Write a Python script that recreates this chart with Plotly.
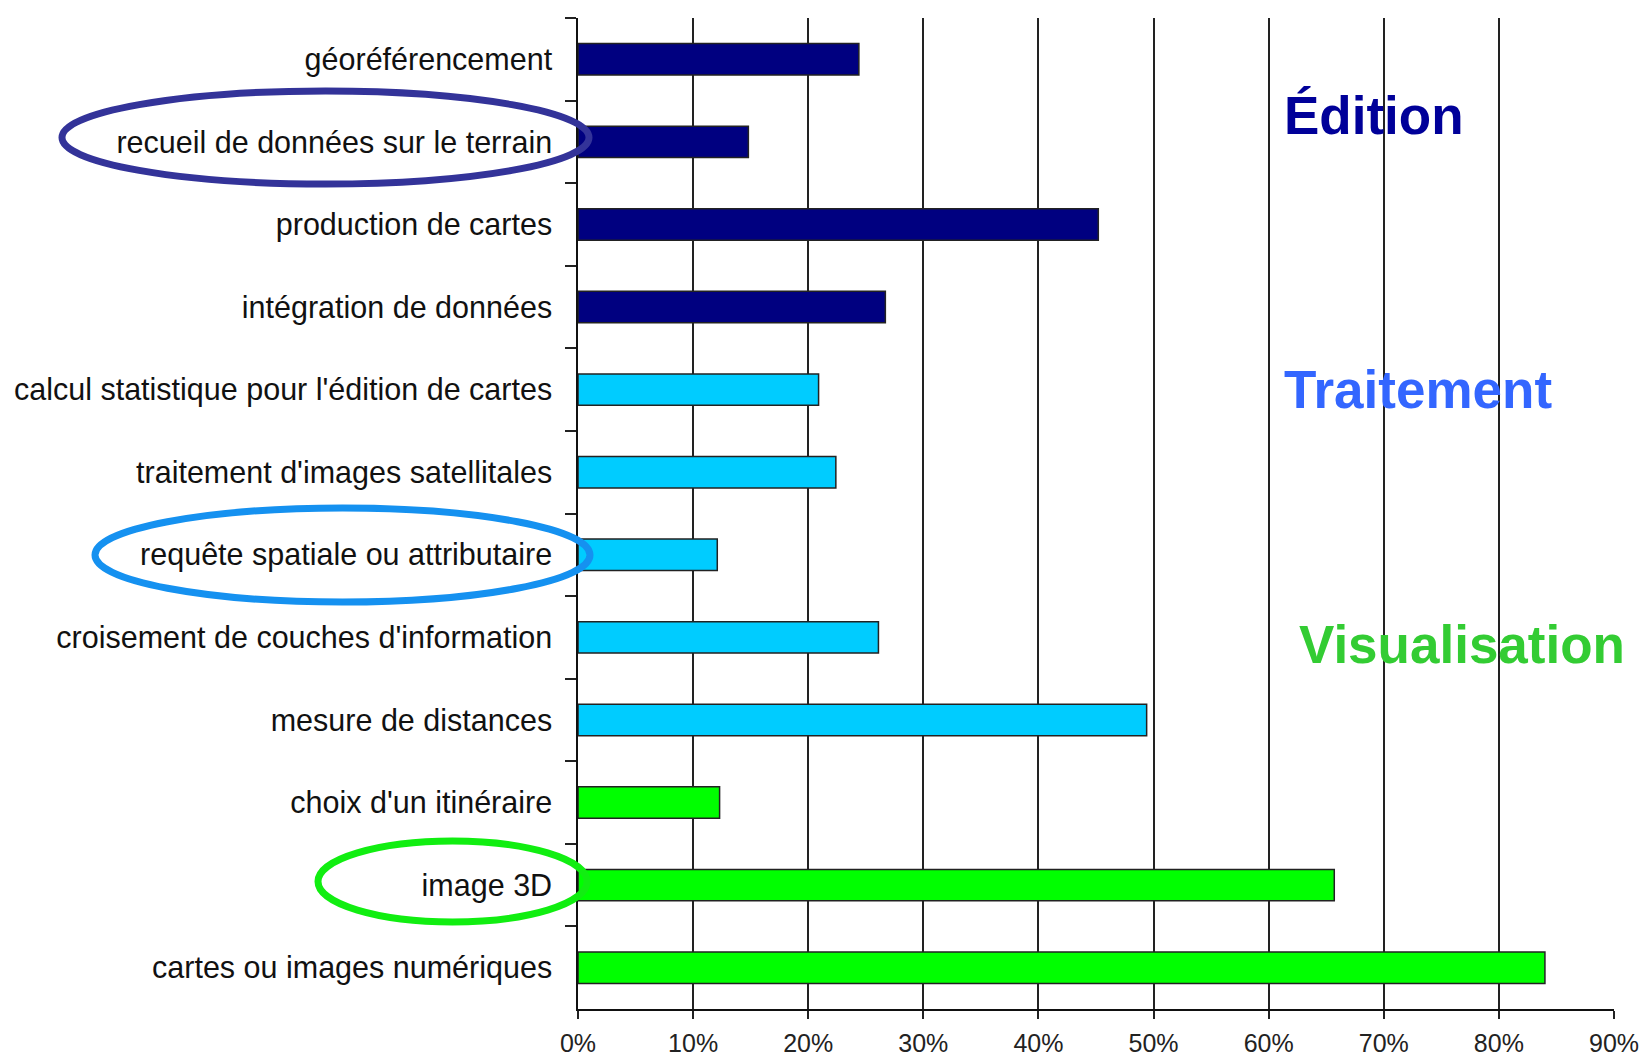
import plotly.graph_objects as go

# ---------------- data ----------------
categories = [
    "géoréférencement",
    "recueil de données sur le terrain",
    "production de cartes",
    "intégration de données",
    "calcul statistique pour l'édition de cartes",
    "traitement d'images satellitales",
    "requête spatiale ou attributaire",
    "croisement de couches d'information",
    "mesure de distances",
    "choix d'un itinéraire",
    "image 3D",
    "cartes ou images numériques",
]
values = [0.244, 0.148, 0.452, 0.267, 0.209, 0.224, 0.121, 0.261, 0.494, 0.123, 0.657, 0.840]
groups = ["Édition"] * 4 + ["Traitement"] * 5 + ["Visualisation"] * 3
group_names = ["Édition", "Traitement", "Visualisation"]
x_ticks = [0.0, 0.1, 0.2, 0.3, 0.4, 0.5, 0.6, 0.7, 0.8, 0.9]
x_tick_labels = ["0%", "10%", "20%", "30%", "40%", "50%", "60%", "70%", "80%", "90%"]
highlighted = ["recueil de données sur le terrain", "requête spatiale ou attributaire", "image 3D"]

# ---------------- styles ----------------
bar_colors = {"Édition": "#000080", "Traitement": "#00ccff", "Visualisation": "#00ff00"}
label_colors = {"Édition": "#000099", "Traitement": "#3366ff", "Visualisation": "#33cc33"}
ellipse_colors = {"Édition": "#333399", "Traitement": "#1591f0", "Visualisation": "#11ee11"}

W, H = 1643, 1057
L, R, T, B = 578, 29, 18, 48
PW, PH = W - L - R, H - T - B


def px_x(x):
    return (x - L) / PW


def px_y(y):
    return (H - B - y) / PH


fig = go.Figure()
fig.add_trace(go.Bar(
    y=categories,
    x=values,
    orientation="h",
    width=0.38,
    marker=dict(color=[bar_colors[g] for g in groups], line=dict(color="#222222", width=1.5)),
    showlegend=False,
    hoverinfo="x+y",
))

# group labels (pixel positions of the text)
label_pos = {"Édition": (1282, 115), "Traitement": (1282, 389), "Visualisation": (1297, 644)}
for g in group_names:
    x, y = label_pos[g]
    fig.add_annotation(
        x=px_x(x), y=px_y(y), xref="paper", yref="paper",
        text="<b>%s</b>" % g, showarrow=False, xanchor="left", yanchor="middle",
        font=dict(family="Arial, Liberation Sans, sans-serif", size=53, color=label_colors[g]),
    )

# ellipses around highlighted categories (pixel boxes)
ellipse_boxes = {
    "recueil de données sur le terrain": ("Édition", 62, 91, 589, 184),
    "requête spatiale ou attributaire": ("Traitement", 95, 508, 590, 602),
    "image 3D": ("Visualisation", 318, 841, 587, 922),
}
for name in highlighted:
    g, x0, y0, x1, y1 = ellipse_boxes[name]
    fig.add_shape(
        type="circle", xref="paper", yref="paper",
        x0=px_x(x0), x1=px_x(x1), y0=px_y(y1), y1=px_y(y0),
        line=dict(color=ellipse_colors[g], width=7), layer="above",
    )

fig.update_layout(
    width=W, height=H,
    margin=dict(l=L, r=R, t=T, b=B, autoexpand=False),
    paper_bgcolor="white", plot_bgcolor="white",
    font=dict(family="Arial, Liberation Sans, sans-serif", color="#111111"),
    bargap=0.62,
)
fig.update_yaxes(
    type="category", categoryorder="array", categoryarray=categories,
    range=[11.5, -0.5], autorange=False, automargin=False,
    showgrid=False, zeroline=False,
    showline=True, linecolor="#111111", linewidth=1.5,
    ticks="outside", tickson="boundaries", ticklen=11, tickcolor="#222222", tickwidth=1.5,
    tickfont=dict(size=30.5, color="#111111"), ticklabelstandoff=18,
)
fig.update_xaxes(
    range=[0, 0.9], autorange=False, automargin=False,
    tickvals=x_ticks, ticktext=x_tick_labels,
    showgrid=True, gridcolor="#222222", gridwidth=1.5,
    zeroline=False,
    showline=True, linecolor="#111111", linewidth=1.5,
    ticks="outside", ticklen=8, tickcolor="#222222", tickwidth=1.5,
    tickfont=dict(size=25, color="#222222"), ticklabelstandoff=3,
)

fig.write_html(
    "out.html",
    config={"displayModeBar": False},
    post_script="document.body.style.margin='0';document.body.style.overflow='hidden';",
)
